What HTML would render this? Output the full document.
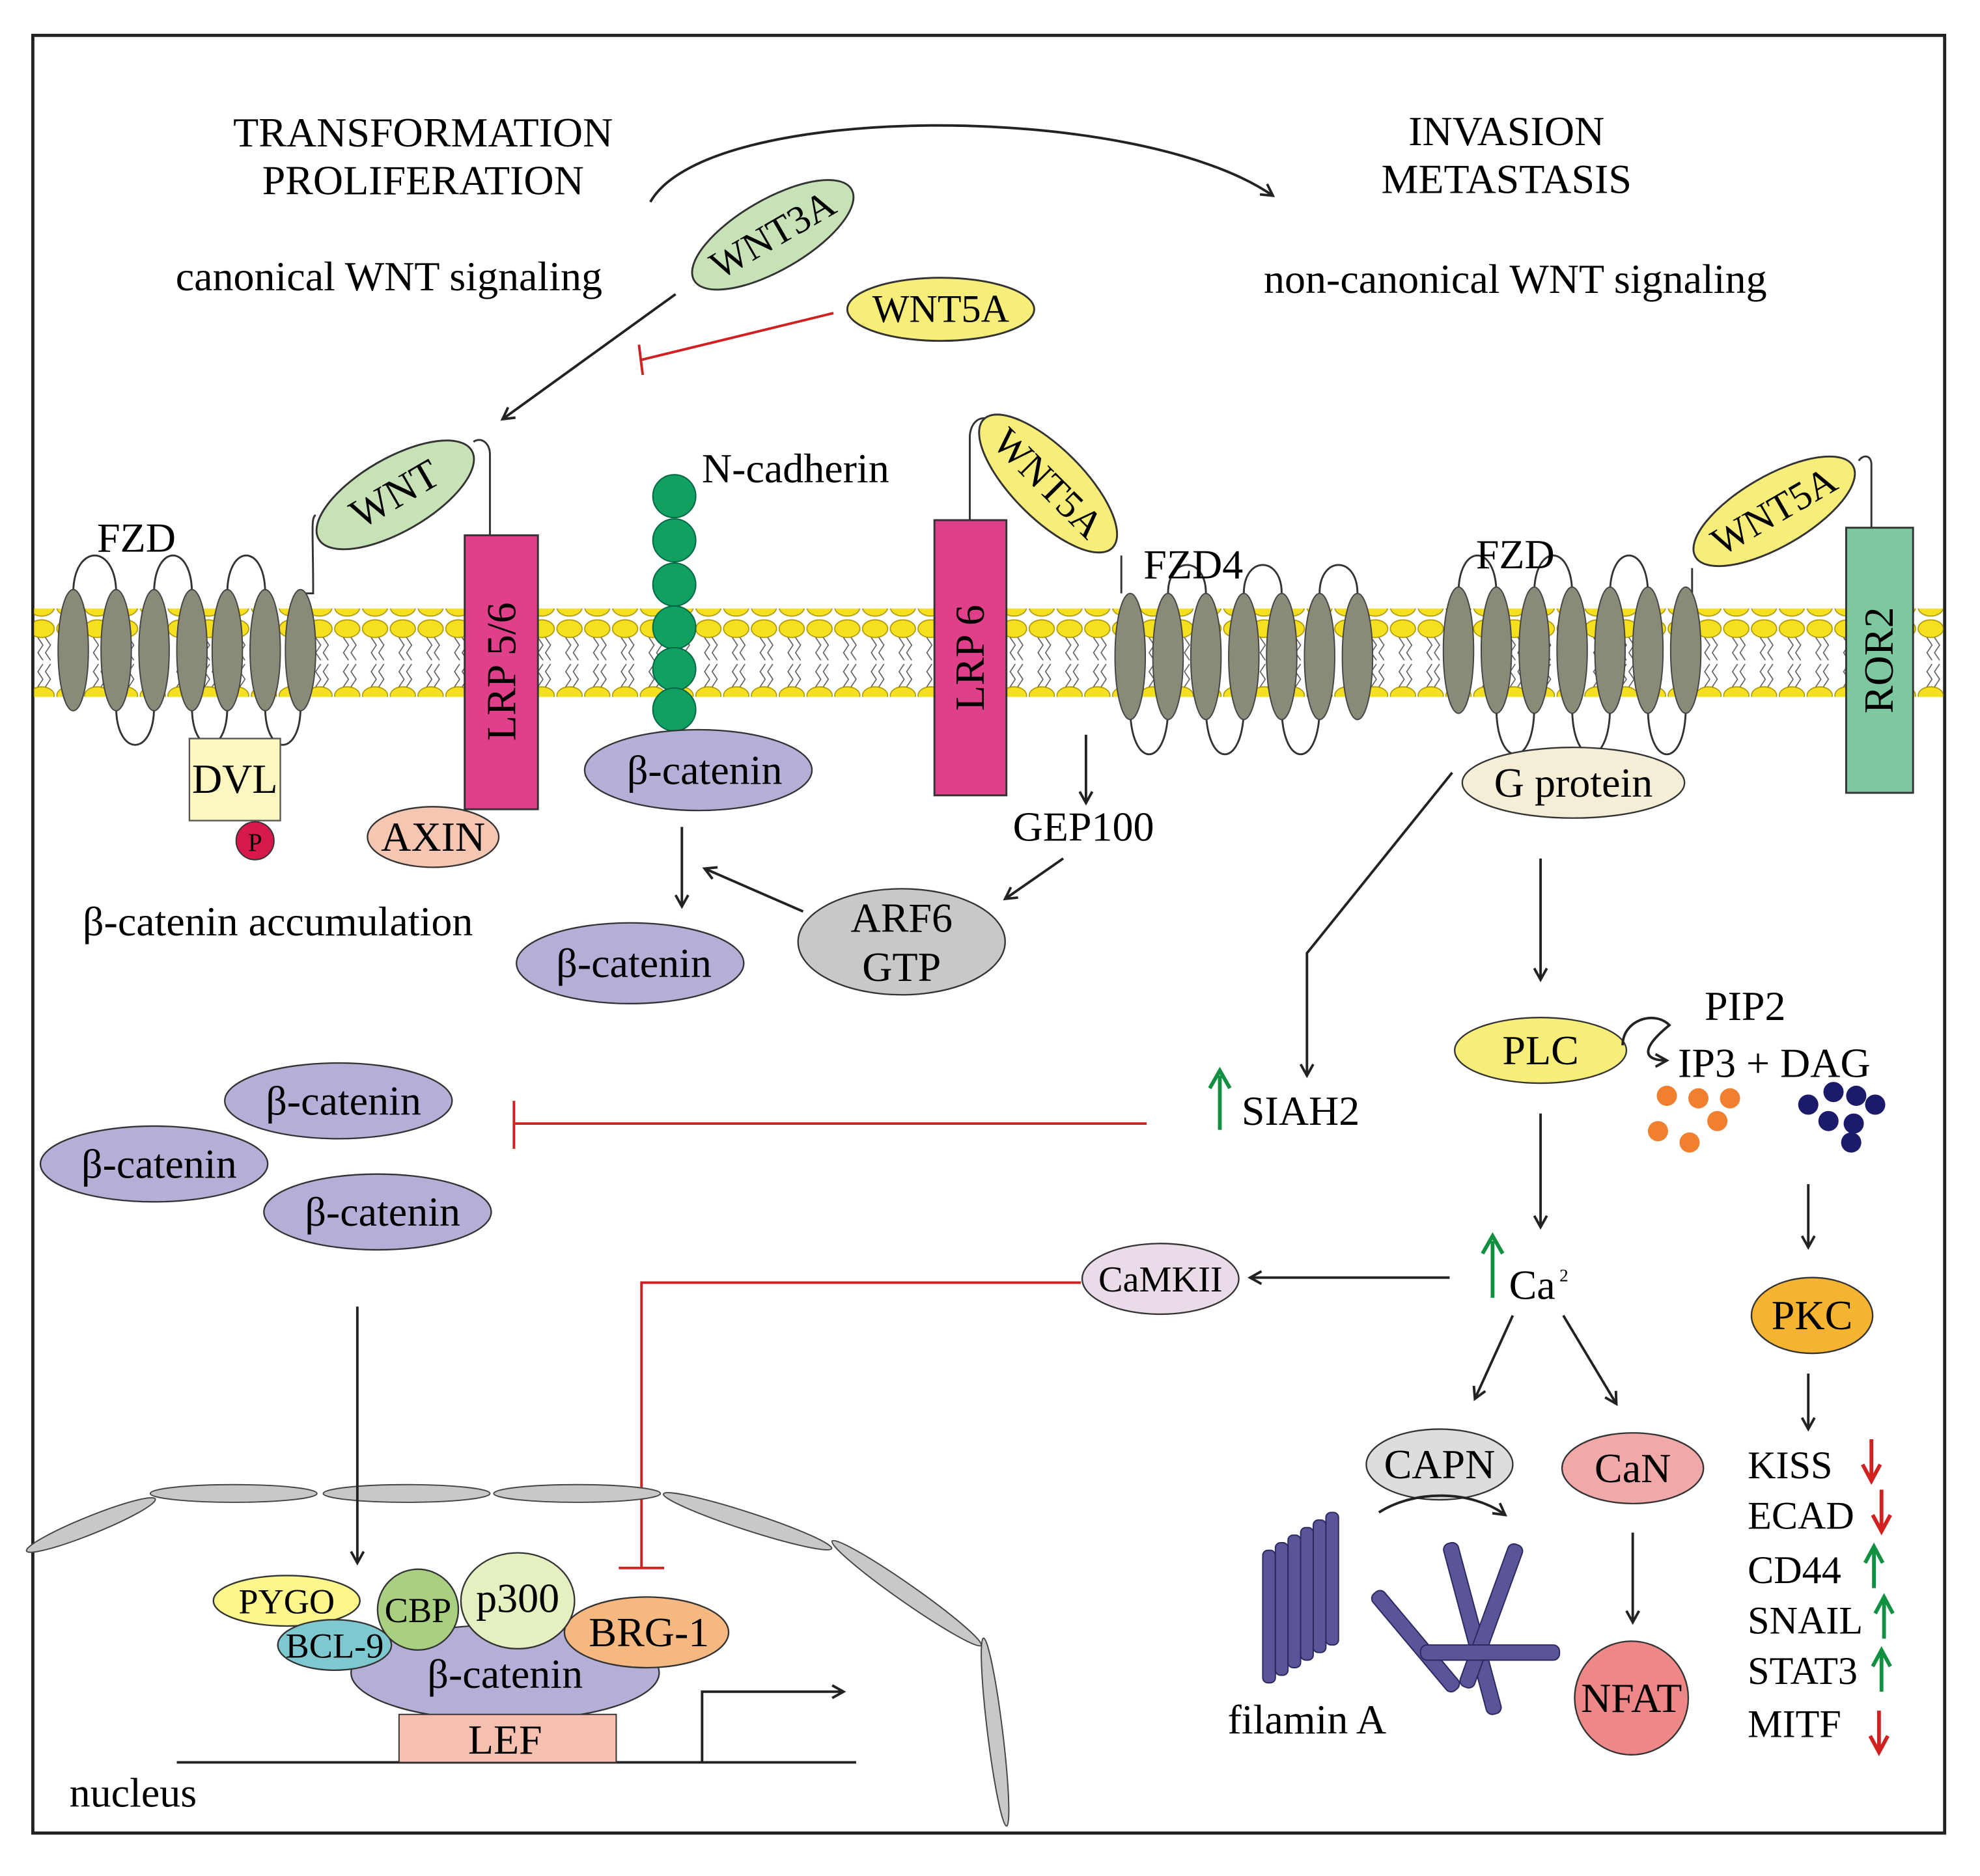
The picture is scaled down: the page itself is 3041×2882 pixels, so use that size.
<!DOCTYPE html>
<html><head><meta charset="utf-8"><style>html,body{margin:0;padding:0;background:#fff}svg{display:block}</style></head>
<body>
<svg width="3041" height="2882" viewBox="0 0 1568 1486" xmlns="http://www.w3.org/2000/svg" font-family="Liberation Serif, serif" font-size="33">
<defs>
<marker id="a" markerWidth="12" markerHeight="12" refX="10" refY="6" orient="auto" markerUnits="userSpaceOnUse"><path d="M1,1 L10,6 L1,11" fill="none" stroke="#222" stroke-width="2"/></marker>
<pattern id="lip" x="0" y="0" width="22" height="70" patternUnits="userSpaceOnUse">
<ellipse cx="11" cy="8" rx="10" ry="7" fill="#f5e020" stroke="#a89000" stroke-width="0.8"/>
<ellipse cx="11" cy="61" rx="10" ry="7" fill="#f5e020" stroke="#a89000" stroke-width="0.8"/>
<path d="M8,15 l4,6 l-4,6 l4,6 M14,15 l4,6 l-4,6 l4,6 M8,54 l4,-6 l-4,-6 l4,-6 M14,54 l4,-6 l-4,-6 l4,-6" fill="none" stroke="#555" stroke-width="0.8"/>
</pattern>
</defs>
<rect width="1568" height="1486" fill="#fff"/>
<rect x="26" y="28" width="1514" height="1424" fill="none" stroke="#222" stroke-width="2.5"/>
<rect x="27" y="482" width="1512" height="70" fill="url(#lip)"/>

<text x="335" y="116" text-anchor="middle">TRANSFORMATION</text>
<text x="335" y="154" text-anchor="middle">PROLIFERATION</text>
<text x="1193" y="115" text-anchor="middle">INVASION</text>
<text x="1193" y="153" text-anchor="middle">METASTASIS</text>
<text x="308" y="230" text-anchor="middle">canonical WNT signaling</text>
<text x="1200" y="232" text-anchor="middle">non-canonical WNT signaling</text>
<path d="M515,160 C560,80 900,80 1008,155" fill="none" stroke="#222" stroke-width="2" marker-end="url(#a)"/>

<ellipse cx="612" cy="186" rx="72" ry="28" transform="rotate(-30 612 186)" fill="#c6e2b6" stroke="#333" stroke-width="1.5"/>
<text x="612" y="196" text-anchor="middle" transform="rotate(-30 612 186)" font-size="31">WNT3A</text>
<ellipse cx="745" cy="245" rx="74" ry="25" fill="#f7ee7a" stroke="#333" stroke-width="1.5"/>
<text x="745" y="255" text-anchor="middle" font-size="31">WNT5A</text>
<line x1="535" y1="233" x2="398" y2="332" stroke="#222" stroke-width="2" marker-end="url(#a)"/>
<line x1="660" y1="248" x2="508" y2="285" stroke="#d02020" stroke-width="2"/>
<line x1="506" y1="273" x2="509" y2="297" stroke="#d02020" stroke-width="2"/>

<path d="M58,470 C58,430 92,430 92,470 M122,470 C122,430 152,430 152,470 M180,470 C180,430 210,430 210,470 M92,560 C92,600 122,600 122,560 M152,560 C152,600 180,600 180,560 M210,560 C210,600 238,600 238,560 M238,470 L248,470 C248,420 246,410 250,408" fill="none" stroke="#333" stroke-width="1.5"/>
<g fill="#8a8a78" stroke="#444" stroke-width="1">
<ellipse cx="58" cy="515" rx="12" ry="48"/><ellipse cx="92" cy="515" rx="12" ry="48"/><ellipse cx="122" cy="515" rx="12" ry="48"/><ellipse cx="152" cy="515" rx="12" ry="48"/><ellipse cx="180" cy="515" rx="12" ry="48"/><ellipse cx="210" cy="515" rx="12" ry="48"/><ellipse cx="238" cy="515" rx="12" ry="48"/>
</g>
<text x="108" y="437" text-anchor="middle">FZD</text>
<ellipse cx="313" cy="392" rx="70" ry="29" transform="rotate(-30 313 392)" fill="#c6e2b6" stroke="#333" stroke-width="1.5"/>
<text x="313" y="402" text-anchor="middle" transform="rotate(-30 313 392)">WNT</text>
<path d="M388,424 L388,360 C388,350 380,346 375,350" fill="none" stroke="#333" stroke-width="1.5"/>
<rect x="368" y="424" width="58" height="217" fill="#e0408a" stroke="#333" stroke-width="1.5"/>
<text x="397" y="532" text-anchor="middle" transform="rotate(-90 397 532)" dy="11">LRP 5/6</text>
<rect x="150" y="585" width="72" height="65" fill="#fdf6c0" stroke="#555" stroke-width="1.2"/>
<text x="186" y="628" text-anchor="middle">DVL</text>
<circle cx="202" cy="666" r="15" fill="#d6184a" stroke="#333"/>
<text x="202" y="674" text-anchor="middle" font-size="20">P</text>
<ellipse cx="343" cy="663" rx="52" ry="24" fill="#f5c6b2" stroke="#333" stroke-width="1.2"/>
<text x="343" y="674" text-anchor="middle">AXIN</text>
<text x="220" y="741" text-anchor="middle">β-catenin accumulation</text>

<g fill="#10a060" stroke="#064" stroke-width="1">
<circle cx="534" cy="393" r="17"/><circle cx="534" cy="428" r="17"/><circle cx="534" cy="463" r="17"/><circle cx="534" cy="497" r="17"/><circle cx="534" cy="530" r="17"/><circle cx="534" cy="562" r="17"/>
</g>
<text x="630" y="382" text-anchor="middle">N-cadherin</text>
<ellipse cx="553" cy="610" rx="90" ry="32" fill="#b3afd6" stroke="#333" stroke-width="1.2"/>
<text x="558" y="621" text-anchor="middle">β-catenin</text>
<line x1="540" y1="655" x2="540" y2="718" stroke="#222" stroke-width="2" marker-end="url(#a)"/>
<ellipse cx="499" cy="763" rx="90" ry="32" fill="#b3afd6" stroke="#333" stroke-width="1.2"/>
<text x="502" y="774" text-anchor="middle">β-catenin</text>
<ellipse cx="714" cy="746" rx="82" ry="42" fill="#c8c8c8" stroke="#333" stroke-width="1.2"/>
<text x="714" y="738" text-anchor="middle">ARF6</text>
<text x="714" y="777" text-anchor="middle">GTP</text>
<line x1="636" y1="722" x2="558" y2="688" stroke="#222" stroke-width="2" marker-end="url(#a)"/>

<path d="M768,412 L768,345 C770,325 790,330 785,340" fill="none" stroke="#333" stroke-width="1.5"/>
<rect x="740" y="412" width="57" height="218" fill="#e0408a" stroke="#333" stroke-width="1.5"/>
<text x="768" y="521" text-anchor="middle" transform="rotate(-90 768 521)" dy="11">LRP 6</text>
<ellipse cx="830" cy="383" rx="72" ry="28" transform="rotate(45 830 383)" fill="#f7ee7a" stroke="#333" stroke-width="1.5"/>
<text x="830" y="393" text-anchor="middle" transform="rotate(45 830 383)" font-size="31">WNT5A</text>
<line x1="860" y1="582" x2="860" y2="636" stroke="#222" stroke-width="2" marker-end="url(#a)"/>
<text x="858" y="666" text-anchor="middle">GEP100</text>
<line x1="842" y1="680" x2="796" y2="712" stroke="#222" stroke-width="2" marker-end="url(#a)"/>

<path d="M888,440 L888,470 M895,560 C895,610 925,610 925,560 M955,560 C955,610 985,610 985,560 M1015,560 C1015,610 1045,610 1045,560 M925,470 C925,440 955,440 955,470 M985,470 C985,440 1015,440 1015,470 M1045,470 C1045,440 1075,440 1075,470" fill="none" stroke="#333" stroke-width="1.5"/>
<g fill="#8a8a78" stroke="#444" stroke-width="1">
<ellipse cx="895" cy="520" rx="12" ry="50"/><ellipse cx="925" cy="520" rx="12" ry="50"/><ellipse cx="955" cy="520" rx="12" ry="50"/><ellipse cx="985" cy="520" rx="12" ry="50"/><ellipse cx="1015" cy="520" rx="12" ry="50"/><ellipse cx="1045" cy="520" rx="12" ry="50"/><ellipse cx="1075" cy="520" rx="12" ry="50"/>
</g>
<text x="945" y="458" text-anchor="middle">FZD4</text>

<path d="M1155,470 C1155,430 1185,430 1185,470 M1215,470 C1215,430 1245,430 1245,470 M1275,470 C1275,430 1305,430 1305,470 M1185,560 C1185,610 1215,610 1215,560 M1245,560 C1245,610 1275,610 1275,560 M1305,560 C1305,610 1335,610 1335,560 M1335,470 L1340,470 L1340,450" fill="none" stroke="#333" stroke-width="1.5"/>
<g fill="#8a8a78" stroke="#444" stroke-width="1">
<ellipse cx="1155" cy="515" rx="12" ry="50"/><ellipse cx="1185" cy="515" rx="12" ry="50"/><ellipse cx="1215" cy="515" rx="12" ry="50"/><ellipse cx="1245" cy="515" rx="12" ry="50"/><ellipse cx="1275" cy="515" rx="12" ry="50"/><ellipse cx="1305" cy="515" rx="12" ry="50"/><ellipse cx="1335" cy="515" rx="12" ry="50"/>
</g>
<text x="1200" y="450" text-anchor="middle">FZD</text>
<ellipse cx="1405" cy="405" rx="72" ry="28" transform="rotate(-30 1405 405)" fill="#f7ee7a" stroke="#333" stroke-width="1.5"/>
<text x="1405" y="415" text-anchor="middle" transform="rotate(-30 1405 405)" font-size="31">WNT5A</text>
<path d="M1482,418 L1482,368 C1482,360 1475,360 1472,365" fill="none" stroke="#333" stroke-width="1.5"/>
<rect x="1462" y="418" width="53" height="210" fill="#7ec8a0" stroke="#333" stroke-width="1.5"/>
<text x="1488" y="523" text-anchor="middle" transform="rotate(-90 1488 523)" dy="11">ROR2</text>
<ellipse cx="1246" cy="620" rx="88" ry="28" fill="#f5eed6" stroke="#333" stroke-width="1.2"/>
<text x="1246" y="631" text-anchor="middle">G protein</text>

<polyline points="1150,612 1035,755 1035,852" fill="none" stroke="#222" stroke-width="2" marker-end="url(#a)"/>
<line x1="1220" y1="680" x2="1220" y2="776" stroke="#222" stroke-width="2" marker-end="url(#a)"/>
<ellipse cx="1220" cy="832" rx="68" ry="26" fill="#f7ee7a" stroke="#333" stroke-width="1.2"/>
<text x="1220" y="843" text-anchor="middle">PLC</text>
<text x="1382" y="808" text-anchor="middle">PIP2</text>
<path d="M1285,828 C1285,808 1310,800 1322,812 C1300,830 1300,840 1320,840" fill="none" stroke="#222" stroke-width="2" marker-end="url(#a)"/>
<text x="1405" y="853" text-anchor="middle">IP3 + DAG</text>
<g fill="#f08030"><circle cx="1320" cy="868" r="8"/><circle cx="1345" cy="870" r="8"/><circle cx="1370" cy="870" r="8"/><circle cx="1313" cy="896" r="8"/><circle cx="1338" cy="905" r="8"/><circle cx="1360" cy="888" r="8"/></g>
<g fill="#1c1a6a"><circle cx="1432" cy="875" r="8"/><circle cx="1452" cy="865" r="8"/><circle cx="1470" cy="868" r="8"/><circle cx="1485" cy="875" r="8"/><circle cx="1448" cy="888" r="8"/><circle cx="1468" cy="890" r="8"/><circle cx="1466" cy="905" r="8"/></g>

<ellipse cx="268" cy="872" rx="90" ry="30" fill="#b3afd6" stroke="#333" stroke-width="1.2"/>
<text x="272" y="883" text-anchor="middle">β-catenin</text>
<ellipse cx="122" cy="922" rx="90" ry="30" fill="#b3afd6" stroke="#333" stroke-width="1.2"/>
<text x="126" y="933" text-anchor="middle">β-catenin</text>
<ellipse cx="299" cy="960" rx="90" ry="30" fill="#b3afd6" stroke="#333" stroke-width="1.2"/>
<text x="303" y="971" text-anchor="middle">β-catenin</text>
<line x1="908" y1="890" x2="408" y2="890" stroke="#d02020" stroke-width="2"/>
<line x1="407" y1="872" x2="407" y2="910" stroke="#d02020" stroke-width="2"/>
<path d="M966,895 L966,852 M958,862 L966,848 L974,862" fill="none" stroke="#109040" stroke-width="3"/>
<text x="1030" y="891" text-anchor="middle">SIAH2</text>

<line x1="1220" y1="882" x2="1220" y2="972" stroke="#222" stroke-width="2" marker-end="url(#a)"/>
<path d="M1182,1028 L1182,983 M1174,993 L1182,979 L1190,993" fill="none" stroke="#109040" stroke-width="3"/>
<text x="1195" y="1029">Ca</text><text x="1235" y="1015" font-size="14">2</text>
<line x1="1148" y1="1012" x2="990" y2="1012" stroke="#222" stroke-width="2" marker-end="url(#a)"/>
<ellipse cx="919" cy="1013" rx="62" ry="28" fill="#eadbe8" stroke="#333" stroke-width="1.2"/>
<text x="919" y="1023" text-anchor="middle" font-size="29">CaMKII</text>
<polyline points="856,1016 508,1016 508,1242" fill="none" stroke="#d02020" stroke-width="2"/>
<line x1="490" y1="1242" x2="526" y2="1242" stroke="#d02020" stroke-width="2"/>

<line x1="1432" y1="938" x2="1432" y2="988" stroke="#222" stroke-width="2" marker-end="url(#a)"/>
<ellipse cx="1435" cy="1042" rx="48" ry="30" fill="#f5b430" stroke="#333" stroke-width="1.2"/>
<text x="1435" y="1053" text-anchor="middle">PKC</text>
<line x1="1432" y1="1088" x2="1432" y2="1132" stroke="#222" stroke-width="2" marker-end="url(#a)"/>
<g font-size="31">
<text x="1384" y="1171">KISS</text><text x="1384" y="1211">ECAD</text><text x="1384" y="1254">CD44</text><text x="1384" y="1294">SNAIL</text><text x="1384" y="1334">STAT3</text><text x="1384" y="1376">MITF</text>
</g>
<g fill="none" stroke-width="3">
<path d="M1482,1140 L1482,1170 M1475,1160 L1482,1173 L1489,1160" stroke="#d02020"/>
<path d="M1490,1180 L1490,1210 M1483,1200 L1490,1213 L1497,1200" stroke="#d02020"/>
<path d="M1484,1258 L1484,1228 M1477,1238 L1484,1225 L1491,1238" stroke="#109040"/>
<path d="M1492,1298 L1492,1268 M1485,1278 L1492,1265 L1499,1278" stroke="#109040"/>
<path d="M1490,1340 L1490,1310 M1483,1320 L1490,1307 L1497,1320" stroke="#109040"/>
<path d="M1488,1355 L1488,1385 M1481,1375 L1488,1388 L1495,1375" stroke="#d02020"/>
</g>

<line x1="1198" y1="1042" x2="1168" y2="1108" stroke="#222" stroke-width="2" marker-end="url(#a)"/>
<line x1="1238" y1="1042" x2="1280" y2="1112" stroke="#222" stroke-width="2" marker-end="url(#a)"/>
<ellipse cx="1140" cy="1160" rx="58" ry="28" fill="#dddddd" stroke="#333" stroke-width="1.2"/>
<text x="1140" y="1171" text-anchor="middle">CAPN</text>
<ellipse cx="1293" cy="1163" rx="56" ry="28" fill="#f0a8a8" stroke="#333" stroke-width="1.2"/>
<text x="1293" y="1174" text-anchor="middle">CaN</text>
<path d="M1092,1198 C1120,1180 1165,1180 1192,1200" fill="none" stroke="#222" stroke-width="2" marker-end="url(#a)"/>
<line x1="1293" y1="1214" x2="1293" y2="1285" stroke="#222" stroke-width="2" marker-end="url(#a)"/>
<circle cx="1292" cy="1345" r="45" fill="#ee8888" stroke="#333" stroke-width="1.2"/>
<text x="1292" y="1356" text-anchor="middle">NFAT</text>

<g fill="#5a5598" stroke="#2a2860" stroke-width="1">
<rect x="1000" y="1228" width="10" height="105" rx="4"/><rect x="1010" y="1222" width="10" height="105" rx="4"/><rect x="1020" y="1216" width="10" height="105" rx="4"/><rect x="1030" y="1210" width="10" height="105" rx="4"/><rect x="1040" y="1204" width="10" height="105" rx="4"/><rect x="1050" y="1198" width="10" height="105" rx="4"/>
<rect x="1160" y="1220" width="12" height="140" rx="5" transform="rotate(-15 1166 1290)"/>
<rect x="1175" y="1220" width="12" height="120" rx="5" transform="rotate(20 1181 1280)"/>
<rect x="1115" y="1250" width="12" height="100" rx="5" transform="rotate(-40 1121 1300)"/>
<rect x="1125" y="1303" width="110" height="12" rx="5"/>
</g>
<text x="1035" y="1373" text-anchor="middle">filamin A</text>

<g fill="#c8c8c8" stroke="#444" stroke-width="1">
<ellipse cx="185" cy="1183" rx="66" ry="7"/><ellipse cx="322" cy="1183" rx="66" ry="7"/><ellipse cx="457" cy="1183" rx="66" ry="7"/>
<ellipse cx="72" cy="1208" rx="55" ry="7" transform="rotate(-22 72 1208)"/>
<ellipse cx="592" cy="1205" rx="70" ry="7" transform="rotate(18 592 1205)"/>
<ellipse cx="718" cy="1262" rx="72" ry="7" transform="rotate(35 718 1262)"/>
<ellipse cx="788" cy="1372" rx="75" ry="6" transform="rotate(83 788 1372)"/>
</g>
<line x1="283" y1="1035" x2="283" y2="1238" stroke="#222" stroke-width="2" marker-end="url(#a)"/>
<line x1="140" y1="1396" x2="678" y2="1396" stroke="#222" stroke-width="2"/>
<polyline points="556,1396 556,1340 668,1340" fill="none" stroke="#222" stroke-width="2" marker-end="url(#a)"/>
<ellipse cx="400" cy="1325" rx="122" ry="38" fill="#b3afd6" stroke="#333" stroke-width="1.2"/>
<text x="400" y="1337" text-anchor="middle">β-catenin</text>
<rect x="316" y="1358" width="172" height="38" fill="#f5c0b0" stroke="#333" stroke-width="1"/>
<text x="400" y="1389" text-anchor="middle">LEF</text>
<ellipse cx="227" cy="1268" rx="58" ry="20" fill="#fdf68a" stroke="#333" stroke-width="1.2"/>
<text x="227" y="1278" text-anchor="middle" font-size="28">PYGO</text>
<ellipse cx="265" cy="1303" rx="45" ry="20" fill="#7ec8d0" stroke="#333" stroke-width="1.2"/>
<text x="265" y="1313" text-anchor="middle" font-size="28">BCL-9</text>
<ellipse cx="512" cy="1293" rx="65" ry="28" fill="#f5b880" stroke="#333" stroke-width="1.2"/>
<text x="514" y="1304" text-anchor="middle">BRG-1</text>
<circle cx="331" cy="1275" r="32" fill="#a8d080" stroke="#333" stroke-width="1.2"/>
<text x="331" y="1285" text-anchor="middle" font-size="28">CBP</text>
<ellipse cx="410" cy="1268" rx="45" ry="38" fill="#e4f0c0" stroke="#333" stroke-width="1.2"/>
<text x="410" y="1277" text-anchor="middle">p300</text>
<text x="55" y="1431">nucleus</text>
</svg>
</body></html>
